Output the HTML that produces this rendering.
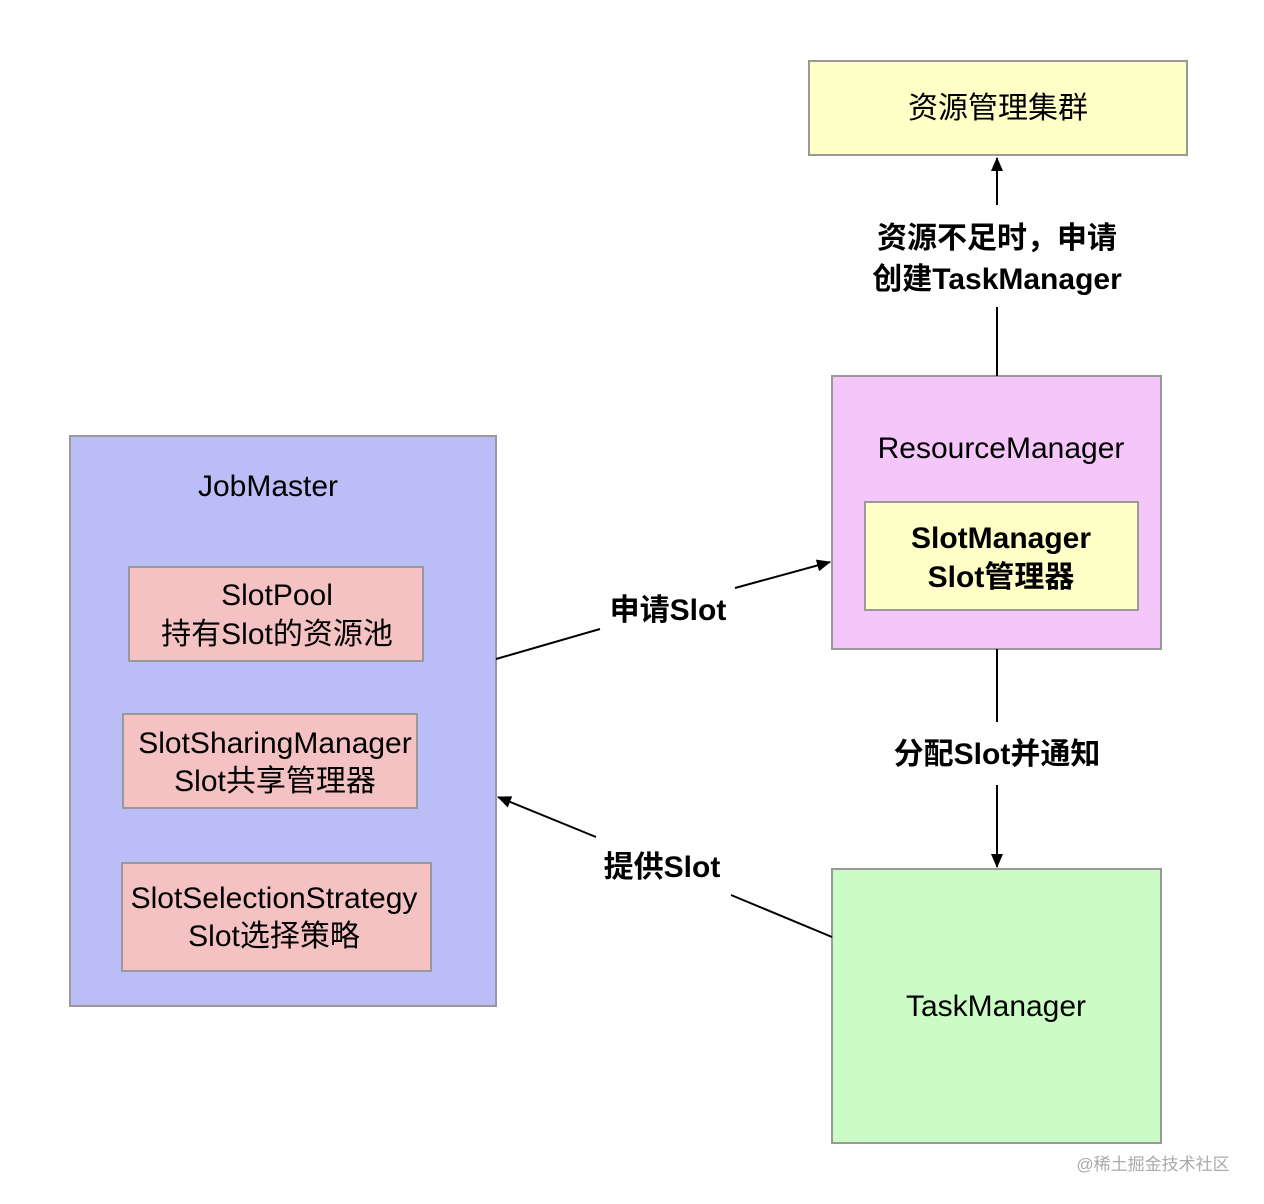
<!DOCTYPE html>
<html><head><meta charset="utf-8"><style>html,body{margin:0;padding:0;background:#fff;}svg{display:block}</style></head>
<body>
<svg width="1264" height="1204" viewBox="0 0 1264 1204" xmlns="http://www.w3.org/2000/svg" font-family="Liberation Sans, Noto Sans CJK SC, sans-serif">
<defs><marker id="a" markerWidth="14" markerHeight="12" refX="13" refY="6" orient="auto" markerUnits="userSpaceOnUse"><path d="M0,0 L14,6 L0,12 Z" fill="#000"/></marker></defs>
<g stroke="#999" stroke-width="2">
<rect x="809" y="61" width="378" height="94" fill="#ffffc8"/>
<rect x="832" y="376" width="329" height="273" fill="#f4c6f9"/>
<rect x="865" y="502" width="273" height="108" fill="#ffffc8"/>
<rect x="70" y="436" width="426" height="570" fill="#bbbdf7"/>
<rect x="129" y="567" width="294" height="94" fill="#f4c2c2"/>
<rect x="123" y="714" width="294" height="94" fill="#f4c2c2"/>
<rect x="122" y="863" width="309" height="108" fill="#f4c2c2"/>
<rect x="832" y="869" width="329" height="274" fill="#ccfcc5"/>
</g>
<g stroke="#000" stroke-width="2" fill="none">
<line x1="997" y1="376" x2="997" y2="307"/>
<line x1="997" y1="205" x2="997" y2="158" marker-end="url(#a)"/>
<line x1="997" y1="649" x2="997" y2="722"/>
<line x1="997" y1="785" x2="997" y2="867" marker-end="url(#a)"/>
<line x1="496" y1="659" x2="600" y2="629"/>
<line x1="735" y1="588" x2="830" y2="562" marker-end="url(#a)"/>
<line x1="832" y1="937" x2="731" y2="895"/>
<line x1="596" y1="837" x2="498" y2="797" marker-end="url(#a)"/>
</g>
<g font-size="30" text-anchor="middle" fill="#000">
<text x="998" y="118">资源管理集群</text>
<text x="1001" y="458">ResourceManager</text>
<text x="1001" y="548" font-weight="bold">SlotManager</text>
<text x="1001" y="587" font-weight="bold">Slot管理器</text>
<text x="268" y="496">JobMaster</text>
<text x="277" y="605">SlotPool</text>
<text x="277" y="644">持有Slot的资源池</text>
<text x="275" y="753">SlotSharingManager</text>
<text x="275" y="791">Slot共享管理器</text>
<text x="274" y="908">SlotSelectionStrategy</text>
<text x="274" y="946">Slot选择策略</text>
<text x="996" y="1016">TaskManager</text>
<g font-weight="bold">
<text x="997" y="248">资源不足时，申请</text>
<text x="997" y="289">创建TaskManager</text>
<text x="997" y="764">分配Slot并通知</text>
<text x="668" y="620">申请Slot</text>
<text x="662" y="877">提供Slot</text>
</g>
</g>
<text x="1153" y="1170" font-size="17" fill="#aaa" text-anchor="middle">@稀土掘金技术社区</text>
</svg>
</body></html>
